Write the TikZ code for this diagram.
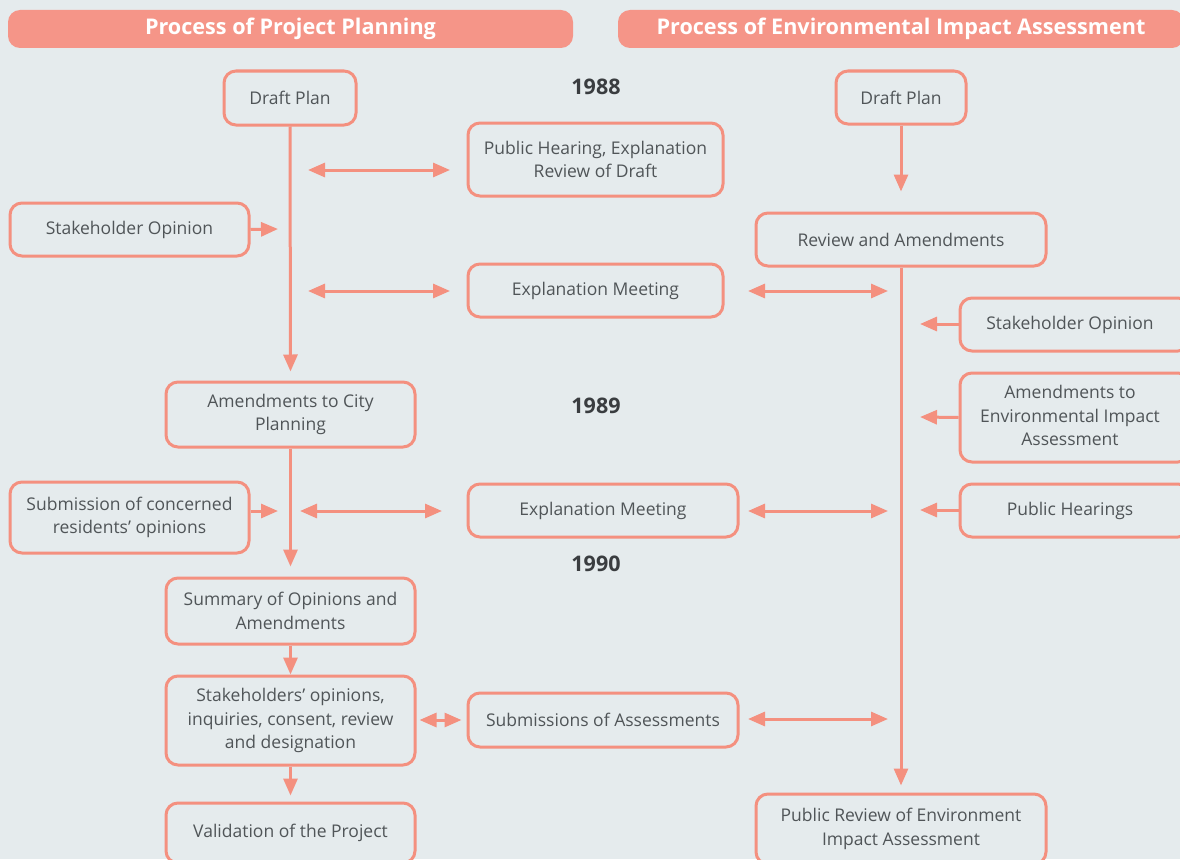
\documentclass[tikz,border=0pt]{standalone}
\usepackage{fontspec}
\setmainfont{Open Sans}
\usetikzlibrary{arrows.meta}
\definecolor{bg}{HTML}{E5EBED}
\definecolor{sal}{HTML}{F4907F}
\definecolor{hdr}{HTML}{F59588}
\definecolor{txt}{HTML}{505558}
\definecolor{yr}{HTML}{3A3D40}
\tikzset{
  box/.style={draw=sal, line width=3pt, rounded corners=12pt, fill=bg, align=center,
    text=txt, font=\fontsize{17.5}{23.5}\selectfont, inner sep=0pt},
  hdrbox/.style={fill=hdr, rounded corners=12pt, inner sep=0pt, text=white,
    font=\fontsize{21.6}{25}\selectfont\bfseries},
  yearlbl/.style={text=yr, font=\fontsize{21.5}{24}\selectfont\bfseries, inner sep=0pt},
  conn/.style={draw=sal, line width=3pt},
  arr/.style={conn, -{Triangle[length=17pt,width=14pt]}},
  darr/.style={conn, {Triangle[length=17pt,width=14pt]}-{Triangle[length=17pt,width=14pt]}},
}
\begin{document}
\begin{tikzpicture}[x=1pt,y=-1pt]
\clip (0,0) rectangle (1180,859);
\fill[bg] (0,0) rectangle (1180,859);
% headers
\node[hdrbox, minimum width=565pt, minimum height=38pt] (h1) at (290.5,29) {Process of Project Planning};
\node[hdrbox, minimum width=566pt, minimum height=38pt] (h2) at (901,29) {Process of Environmental Impact Assessment};
% years
\node[yearlbl] (y88) at (596,87) {1988};
\node[yearlbl] (y89) at (596,406) {1989};
\node[yearlbl] (y90) at (596,564) {1990};
% left column
\node[box, minimum width=132pt, minimum height=54pt] (dpL) at (290,98) {Draft Plan};
\node[box, minimum width=249pt, minimum height=65pt] (amCity) at (290.5,414.5) {Amendments to City\\Planning};
\node[box, minimum width=249pt, minimum height=66pt] (summ) at (290.5,611) {Summary of Opinions and\\Amendments};
\node[box, minimum width=249pt, minimum height=89pt] (stk) at (290.5,720.5) {Stakeholders’ opinions,\\inquiries, consent, review\\and designation};
\node[box, minimum width=249pt, minimum height=60pt] (val) at (290.5,833) {Validation of the Project};
\node[box, minimum width=239pt, minimum height=53pt] (soL) at (129.5,229.5) {Stakeholder Opinion};
\node[box, minimum width=239pt, minimum height=71pt] (sub) at (129.5,517.5) {Submission of concerned\\residents’ opinions};
% middle column
\node[box, minimum width=255pt, minimum height=73pt] (ph) at (595.5,159.5) {Public Hearing, Explanation\\Review of Draft};
\node[box, minimum width=255pt, minimum height=53pt] (em1) at (595.5,290.5) {Explanation Meeting};
\node[box, minimum width=270pt, minimum height=53pt] (em2) at (603,510.5) {Explanation Meeting};
\node[box, minimum width=270pt, minimum height=54pt] (sa) at (603,720) {Submissions of Assessments};
% right column
\node[box, minimum width=130pt, minimum height=53pt] (dpR) at (901,97.5) {Draft Plan};
\node[box, minimum width=290pt, minimum height=53pt] (rev) at (901,239.5) {Review and Amendments};
\node[box, minimum width=290pt, minimum height=70pt] (pr) at (901,829) {Public Review of Environment\\Impact Assessment};
\node[box, minimum width=230pt, minimum height=53pt] (soR) at (1075,324.5) {\hspace*{-10pt}Stakeholder Opinion};
\node[box, minimum width=230pt, minimum height=89pt] (amE) at (1075,417.5) {\hspace*{-10pt}\begin{tabular}{@{}c@{}}Amendments to\\Environmental Impact\\Assessment\end{tabular}};
\node[box, minimum width=230pt, minimum height=53pt] (phR) at (1075,510.5) {\hspace*{-10pt}Public Hearings};
% coordinates on the spines
\coordinate (lA) at (278,229);
\coordinate (lB) at (278,511);
\coordinate (p1a) at (308,170); \coordinate (p1b) at (450,170);
\coordinate (p2a) at (308,291); \coordinate (p2b) at (450,291);
\coordinate (p3a) at (300,511); \coordinate (p3b) at (442,511);
\coordinate (q1a) at (748,291); \coordinate (q1b) at (888,291);
\coordinate (q2a) at (748,511); \coordinate (q2b) at (888,511);
\coordinate (q3a) at (748,719); \coordinate (q3b) at (888,719);
\coordinate (r1) at (920,324);
\coordinate (r2) at (920,417);
\coordinate (r3) at (920,510);
% left spine
\draw[arr] (dpL.south) -- ([yshift=9pt]amCity.north);
\draw[arr] (amCity.south) -- ([yshift=10pt]summ.north);
\draw[arr] (summ.south) -- (stk.north);
\draw[arr] (stk.south) -- ([yshift=6pt]val.north);
\draw[arr] (soL.east) -- (lA);
\draw[arr] (sub.east |- lB) -- (lB);
\draw[darr] (p1a) -- (p1b);
\draw[darr] (p2a) -- (p2b);
\draw[darr] (p3a) -- (p3b);
\draw[darr] ([xshift=3pt]stk.east |- sa.west) -- ([xshift=-5pt]sa.west);
% right spine
\draw[arr] (dpR.south) -- ([yshift=20pt]rev.north);
\draw[arr] (rev.south) -- ([yshift=7pt]pr.north);
\draw[darr] (q1a) -- (q1b);
\draw[darr] (q2a) -- (q2b);
\draw[darr] (q3a) -- (q3b);
\draw[arr] (soR.west |- r1) -- (r1);
\draw[arr] (amE.west) -- (r2);
\draw[arr] (phR.west |- r3) -- (r3);
\end{tikzpicture}
\end{document}
